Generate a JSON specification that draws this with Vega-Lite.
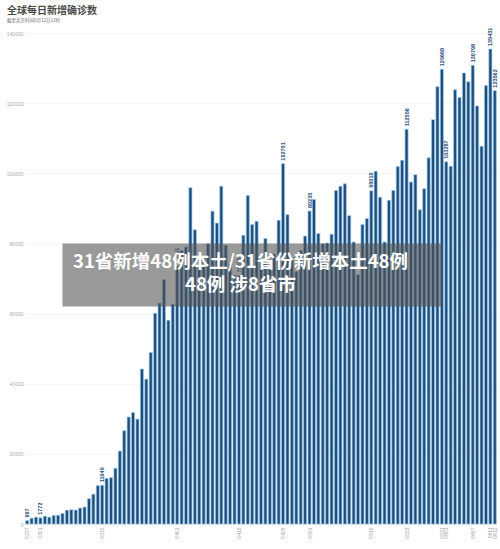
{
  "$schema": "https://vega.github.io/schema/vega-lite/v6.json",
  "width": 472,
  "height": 491,
  "autosize": "none",
  "padding": {"left": 25, "top": 33, "right": 3, "bottom": 25},
  "background": "white",
  "title": {
    "text": "全球每日新增确诊数",
    "subtitle": "截至北京时间6月12日12时",
    "anchor": "start",
    "frame": "group",
    "dx": -18,
    "offset": 5,
    "font": "Noto Sans CJK SC",
    "fontSize": 10,
    "fontWeight": "bold",
    "color": "#4a4a4a",
    "subtitleFont": "Noto Sans CJK SC",
    "subtitleFontSize": 4.5,
    "subtitleColor": "#666666",
    "subtitlePadding": 2.5
  },
  "datasets": {
    "daily": [
      {"d": "0227", "v": 997, "tag": true},
      {"d": "0228", "v": 1650},
      {"d": "0229", "v": 1950},
      {"d": "0301", "v": 1772, "tag": true},
      {"d": "0302", "v": 2250},
      {"d": "0303", "v": 1950},
      {"d": "0304", "v": 2450},
      {"d": "0305", "v": 2500},
      {"d": "0306", "v": 3000},
      {"d": "0307", "v": 3950},
      {"d": "0308", "v": 4050},
      {"d": "0309", "v": 4000},
      {"d": "0310", "v": 4550},
      {"d": "0311", "v": 4850},
      {"d": "0312", "v": 7200},
      {"d": "0313", "v": 8500},
      {"d": "0314", "v": 10950},
      {"d": "0315", "v": 11049, "tag": true},
      {"d": "0316", "v": 13000},
      {"d": "0317", "v": 13200},
      {"d": "0318", "v": 15900},
      {"d": "0319", "v": 20800},
      {"d": "0320", "v": 26600},
      {"d": "0321", "v": 30500},
      {"d": "0322", "v": 31800},
      {"d": "0323", "v": 29900},
      {"d": "0324", "v": 44200},
      {"d": "0325", "v": 41300},
      {"d": "0326", "v": 48900},
      {"d": "0327", "v": 60100},
      {"d": "0328", "v": 63000},
      {"d": "0329", "v": 69700},
      {"d": "0330", "v": 58100},
      {"d": "0331", "v": 62700},
      {"d": "0401", "v": 73591, "tag": true},
      {"d": "0402", "v": 78000},
      {"d": "0403", "v": 79000},
      {"d": "0404", "v": 95900},
      {"d": "0405", "v": 83900},
      {"d": "0406", "v": 73000},
      {"d": "0407", "v": 76000},
      {"d": "0408", "v": 79900},
      {"d": "0409", "v": 89200},
      {"d": "0410", "v": 85800},
      {"d": "0411", "v": 96300},
      {"d": "0412", "v": 79500},
      {"d": "0413", "v": 74000},
      {"d": "0414", "v": 71000},
      {"d": "0415", "v": 70875, "tag": true},
      {"d": "0416", "v": 82300},
      {"d": "0417", "v": 93700},
      {"d": "0418", "v": 85400},
      {"d": "0419", "v": 86300},
      {"d": "0420", "v": 75000},
      {"d": "0421", "v": 81400},
      {"d": "0422", "v": 73000},
      {"d": "0423", "v": 77000},
      {"d": "0424", "v": 86600},
      {"d": "0425", "v": 102751, "tag": true},
      {"d": "0426", "v": 88200},
      {"d": "0427", "v": 76000},
      {"d": "0428", "v": 72000},
      {"d": "0429", "v": 78000},
      {"d": "0430", "v": 82100},
      {"d": "0501", "v": 89235, "tag": true},
      {"d": "0502", "v": 92500},
      {"d": "0503", "v": 82800},
      {"d": "0504", "v": 79900},
      {"d": "0505", "v": 80100},
      {"d": "0506", "v": 82600},
      {"d": "0507", "v": 95100},
      {"d": "0508", "v": 96300},
      {"d": "0509", "v": 97000},
      {"d": "0510", "v": 87900},
      {"d": "0511", "v": 80400},
      {"d": "0512", "v": 71100},
      {"d": "0513", "v": 85400},
      {"d": "0514", "v": 87100},
      {"d": "0515", "v": 95010, "tag": true},
      {"d": "0516", "v": 100600},
      {"d": "0517", "v": 93200},
      {"d": "0518", "v": 80400},
      {"d": "0519", "v": 92300},
      {"d": "0520", "v": 95100},
      {"d": "0521", "v": 101900},
      {"d": "0522", "v": 103700},
      {"d": "0523", "v": 112556, "tag": true},
      {"d": "0524", "v": 97500},
      {"d": "0525", "v": 99600},
      {"d": "0526", "v": 89600},
      {"d": "0527", "v": 95600},
      {"d": "0528", "v": 104400},
      {"d": "0529", "v": 115300},
      {"d": "0530", "v": 124700},
      {"d": "0531", "v": 129668, "tag": true},
      {"d": "0601", "v": 103287, "tag": true},
      {"d": "0602", "v": 102000},
      {"d": "0603", "v": 123800},
      {"d": "0604", "v": 121600},
      {"d": "0605", "v": 128600},
      {"d": "0606", "v": 126100},
      {"d": "0607", "v": 130798, "tag": true},
      {"d": "0608", "v": 119200},
      {"d": "0609", "v": 107700},
      {"d": "0610", "v": 125000},
      {"d": "0611", "v": 135431, "tag": true},
      {"d": "0612", "v": 123562, "tag": true}
    ],
    "banner": [
      {"headline": "31省新增48例本土/31省份新增本土48例\n48例  涉8省市"}
    ]
  },
  "layer": [
    {
      "data": {"name": "daily"},
      "mark": {
        "type": "bar",
        "fill": "#1d4d7b",
        "stroke": "#9cc8ec",
        "strokeWidth": 0.7
      },
      "encoding": {
        "x": {
          "field": "d",
          "type": "ordinal",
          "sort": null,
          "scale": {"paddingInner": 0.3, "paddingOuter": 0.15},
          "axis": {
            "title": null,
            "values": ["0227", "0301", "0315", "0401", "0415", "0425", "0501", "0515", "0523", "0531", "0601", "0607", "0611", "0612"],
            "labelAngle": -90,
            "labelFontSize": 5,
            "labelColor": "#a0a0a0",
            "labelPadding": 3,
            "ticks": false,
            "domainColor": "#dddddd",
            "domainWidth": 0.6
          }
        },
        "y": {
          "field": "v",
          "type": "quantitative",
          "scale": {"domain": [0, 140000], "nice": false},
          "axis": {
            "title": null,
            "values": [0, 10000, 20000, 30000, 40000, 50000, 60000, 70000, 80000, 90000, 100000, 110000, 120000, 130000, 140000],
            "format": "d",
            "labelFontSize": 5,
            "labelColor": "#aaaaaa",
            "labelPadding": 2,
            "ticks": false,
            "domain": false,
            "gridColor": "#eeeeee",
            "gridWidth": 0.6
          }
        }
      }
    },
    {
      "data": {"name": "daily"},
      "transform": [{"filter": "datum.tag"}],
      "mark": {
        "type": "text",
        "angle": 270,
        "align": "left",
        "baseline": "middle",
        "dx": 3,
        "fontSize": 5.5,
        "fontWeight": "bold",
        "font": "Liberation Sans",
        "color": "#1d4d7b"
      },
      "encoding": {
        "x": {"field": "d", "type": "ordinal", "sort": null},
        "y": {"field": "v", "type": "quantitative"},
        "text": {"field": "v", "type": "quantitative", "format": "d"}
      }
    },
    {
      "data": {"name": "banner"},
      "mark": {"type": "rect", "fill": "#555555", "opacity": 0.6},
      "encoding": {
        "x": {"datum": "0306"},
        "x2": {"datum": "0531"},
        "y": {"datum": 80000},
        "y2": {"datum": 62000}
      }
    },
    {
      "data": {"name": "banner"},
      "mark": {
        "type": "text",
        "lineBreak": "\n",
        "lineHeight": 23,
        "align": "center",
        "baseline": "middle",
        "font": "Noto Sans CJK SC",
        "fontSize": 18.5,
        "fontWeight": "bold",
        "color": "white"
      },
      "encoding": {
        "x": {"datum": "0415", "bandPosition": 1},
        "y": {"datum": 74600},
        "text": {"field": "headline"}
      }
    }
  ],
  "config": {
    "view": {"stroke": null},
    "font": "Liberation Sans"
  }
}
